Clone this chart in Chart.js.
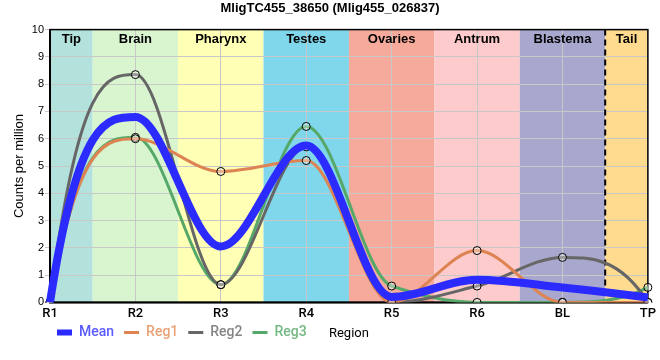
<!DOCTYPE html>
<html>
<head>
<meta charset="utf-8">
<script src="https://cdn.jsdelivr.net/npm/chart.js@4.4.0/dist/chart.umd.min.js"></script>
<style>
  html, body { margin: 0; padding: 0; background: #fff; }
</style>
</head>
<body>
<canvas id="chart" width="660" height="360"></canvas>
<script>
// values
const regions = ['R1', 'R2', 'R3', 'R4', 'R5', 'R6', 'BL', 'TP'];
const meanCpm = [0, 6.8, 2.05, 5.75, 0.2, 0.83, 0.55, 0.18];
const reg1Cpm = [0, 6.0, 4.8, 5.2, 0, 1.9, 0, 0];
const reg2Cpm = [0, 8.35, 0.65, 5.7, 0, 0.6, 1.65, 0];
const reg3Cpm = [0, 6.05, 0.65, 6.45, 0.6, 0, 0, 0.55];

// body regions shown as coloured bands (in category index units)
const bandNames = ['Tip', 'Brain', 'Pharynx', 'Testes', 'Ovaries', 'Antrum', 'Blastema', 'Tail'];
const bandFrom = [0, 0.5, 1.5, 2.5, 3.5, 4.5, 5.5, 6.5];
const bandTo = [0.5, 1.5, 2.5, 3.5, 4.5, 5.5, 6.5, 7];
const bandColors = ['#b3e2dd', '#d9f5d0', '#ffffb5', '#80d6ea', '#f5aa9c', '#fdcbcb', '#a8a8cf', '#fedb8e'];
const tailBoundary = 6.5;

const FONT = "'Liberation Sans', Arial, sans-serif";
const LEGEND_FONT = "Roboto, 'Liberation Sans', sans-serif";

// monotone hermite tangents: flat at extremes, steep one-sided ends
function hermiteSlopes(ys) {
    const n = ys.length;
    const d = [];
    for (let i = 0; i < n - 1; i++) d.push(ys[i + 1] - ys[i]);
    const m = new Array(n).fill(0);
    for (let i = 1; i < n - 1; i++) {
        if (d[i - 1] * d[i] > 0) m[i] = 2 / (1 / d[i - 1] + 1 / d[i]);
    }
    const edge = (d0, d1) => {
        if (d0 === 0) return 0;
        if (Math.sign(d0) !== Math.sign(d1)) return 3 * d0;
        const s = (3 * d0 - d1) / 2;
        return Math.sign(s) === Math.sign(d0) ? s : 0;
    };
    m[0] = edge(d[0], d[1]);
    m[n - 1] = edge(d[n - 2], d[n - 3]);
    return m;
}

const smoothPlugin = {
    id: 'smooth',
    beforeDatasetsDraw(chart) {
        chart.data.datasets.forEach((ds, di) => {
            const line = chart.getDatasetMeta(di).dataset;
            line.updateControlPoints(chart.chartArea, 'x');
            const pts = line.points;
            const slopes = hermiteSlopes(pts.map(p => p.y));
            pts.forEach((p, i) => {
                const prev = pts[i - 1], next = pts[i + 1];
                if (prev) {
                    p.cp1x = p.x - (p.x - prev.x) / 3;
                    p.cp1y = p.y - slopes[i] / 3;
                }
                if (next) {
                    p.cp2x = p.x + (next.x - p.x) / 3;
                    p.cp2y = p.y + slopes[i] / 3;
                }
            });
            line._pointsUpdated = true;
            line._path = undefined;
        });
    }
};

const bandsPlugin = {
    id: 'bands',
    beforeDraw(chart) {
        const {ctx, chartArea: a, scales: {x}} = chart;
        ctx.save();
        bandNames.forEach((name, i) => {
            const x0 = x.getPixelForValue(bandFrom[i]);
            const x1 = x.getPixelForValue(bandTo[i]);
            ctx.fillStyle = bandColors[i];
            ctx.fillRect(x0, a.top, x1 - x0, a.bottom - a.top);
        });
        ctx.restore();
    },
    beforeDatasetsDraw(chart) {
        const {ctx, chartArea: a, scales: {x}} = chart;
        ctx.save();
        // band labels
        ctx.fillStyle = '#000';
        ctx.font = 'bold 13px ' + FONT;
        ctx.textAlign = 'center';
        ctx.textBaseline = 'middle';
        bandNames.forEach((name, i) => {
            const xc = (x.getPixelForValue(bandFrom[i]) + x.getPixelForValue(bandTo[i])) / 2;
            ctx.fillText(name, xc, a.top + 10);
        });
        // dashed line before the tail
        const xd = x.getPixelForValue(tailBoundary);
        ctx.strokeStyle = '#000';
        ctx.lineWidth = 2;
        ctx.setLineDash([6, 4]);
        ctx.beginPath();
        ctx.moveTo(xd, a.top);
        ctx.lineTo(xd, a.bottom);
        ctx.stroke();
        ctx.setLineDash([]);
        // frame
        ctx.lineWidth = 1.5;
        ctx.strokeRect(a.left, a.top, a.right - a.left, a.bottom - a.top);
        ctx.lineWidth = 2;
        ctx.beginPath();
        ctx.moveTo(a.left, a.top);
        ctx.lineTo(a.left, a.bottom);
        ctx.lineTo(a.right, a.bottom);
        ctx.stroke();
        ctx.restore();
    },
    afterLayout(chart) {
        // legend sits on the same row as the x axis title
        chart.legend.left -= 3;
        chart.legend.top = chart.chartArea.bottom + 13;
        chart.titleBlock.left += 5;
        chart.titleBlock.right += 5;
    },
    afterDraw(chart) {
        const {ctx, chartArea: a} = chart;
        ctx.save();
        ctx.fillStyle = '#000';
        ctx.font = '13px ' + LEGEND_FONT;
        ctx.textAlign = 'center';
        ctx.textBaseline = 'middle';
        ctx.fillText('Region', (a.left + a.right) / 2, a.bottom + 31);
        ctx.restore();
    }
};

function regDataset(label, data, color, textColor) {
    return {
        label: label,
        data: data,
        borderColor: color,
        legendText: textColor,
        borderWidth: 3,
        cubicInterpolationMode: 'monotone',
        pointRadius: 4,
        pointBorderWidth: 1,
        pointBorderColor: '#000',
        pointBackgroundColor: 'rgba(255,255,255,0.35)',
        pointHoverRadius: 4
    };
}

new Chart(document.getElementById('chart'), {
    type: 'line',
    data: {
        labels: regions,
        datasets: [
            {
                label: 'Mean',
                data: meanCpm,
                borderColor: '#2b2bff',
                legendText: '#5a5aff',
                borderWidth: 8,
                cubicInterpolationMode: 'monotone',
                pointRadius: 0
            },
            regDataset('Reg1', reg1Cpm, '#dd8452', '#e9a175'),
            regDataset('Reg2', reg2Cpm, '#666666', '#858585'),
            regDataset('Reg3', reg3Cpm, '#55a868', '#74b884')
        ]
    },
    options: {
        responsive: false,
        animation: false,
        devicePixelRatio: 1,
        layout: { padding: { left: 0, right: 10, top: 0, bottom: 0 } },
        plugins: {
            title: {
                display: true,
                text: 'MligTC455_38650 (Mlig455_026837)',
                color: '#000',
                font: { family: FONT, size: 13, weight: 'bold' },
                padding: { top: 1, bottom: 13 }
            },
            legend: {
                position: 'bottom',
                align: 'start',
                fullSize: false,
                labels: {
                    usePointStyle: true,
                    pointStyle: 'line',
                    pointStyleWidth: 15,
                    boxWidth: 11,
                    padding: 10,
                    font: { family: LEGEND_FONT, size: 14, weight: 500 },
                    generateLabels(chart) {
                        return chart.data.datasets.map((ds, i) => ({
                            text: ds.label,
                            fontColor: ds.legendText,
                            strokeStyle: ds.borderColor,
                            fillStyle: ds.borderColor,
                            lineWidth: i === 0 ? 6 : 3,
                            pointStyle: 'line',
                            hidden: false,
                            datasetIndex: i
                        }));
                    }
                }
            },
            tooltip: { enabled: false }
        },
        scales: {
            x: {
                offset: false,
                grid: { color: '#c8c8c8', offset: false, drawTicks: false },
                border: { display: false },
                ticks: {
                    color: '#000',
                    padding: 4,
                    font: { family: LEGEND_FONT, size: 13, weight: 500 }
                }
            },
            y: {
                min: 0,
                max: 10,
                grid: { color: '#c8c8c8', tickLength: 5 },
                border: { display: false },
                ticks: {
                    stepSize: 1,
                    color: '#000',
                    padding: 1,
                    font: { family: FONT, size: 11 }
                },
                title: {
                    display: true,
                    text: 'Counts per million',
                    color: '#000',
                    font: { family: FONT, size: 13 },
                    padding: { top: 12, bottom: 0 }
                },
                afterFit(scale) { scale.width = 50; }
            }
        }
    },
    plugins: [smoothPlugin, bandsPlugin]
});
</script>
</body>
</html>
